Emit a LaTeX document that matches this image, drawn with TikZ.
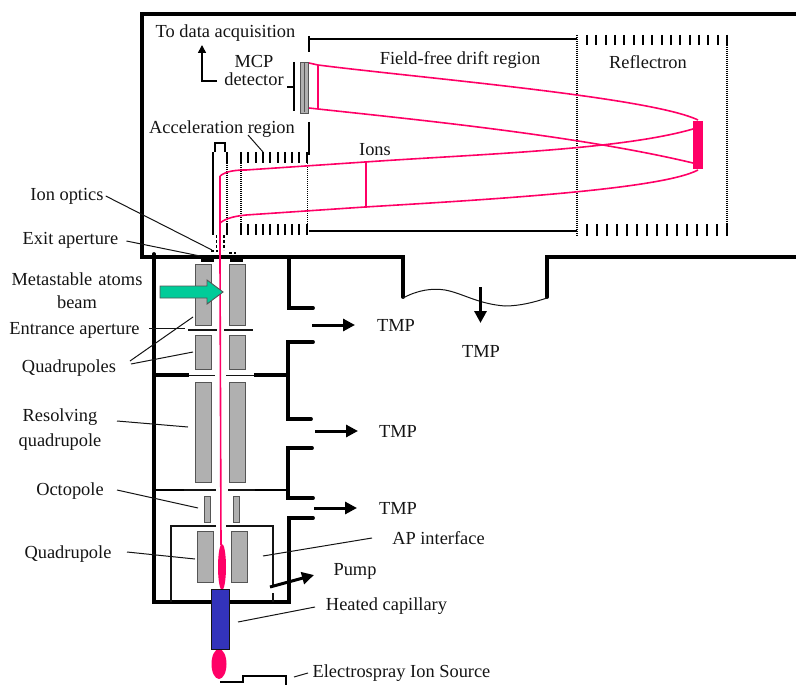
\documentclass[tikz,border=0pt]{standalone}
\usepackage{fontspec}
\setmainfont{Liberation Serif}
\usetikzlibrary{arrows.meta,calc,shapes.geometric}
\definecolor{beam}{HTML}{FF0066}
\definecolor{ink}{HTML}{141414}
\definecolor{quadfill}{HTML}{B0B0B0}
\definecolor{quadedge}{HTML}{555555}
\definecolor{jetgreen}{HTML}{00CC99}
\definecolor{capblue}{HTML}{3333BB}
\tikzset{
  wall/.style={draw=black,line width=3.8pt,line cap=round,line join=miter},
  thinwall/.style={draw=ink,line width=2pt},
  midwall/.style={draw=black,line width=2.4pt},
  quadbox/.style={draw=quadedge,fill=quadfill,line width=0.9pt},
  label/.style={inner sep=0pt,text=ink,font=\fontsize{18.4}{18}\selectfont,align=center},
  leader/.style={draw=ink,line width=1pt},
  flowarrow/.style={draw=black,line width=3pt,-{Triangle[length=12pt,width=12pt]}},
  ray/.style={draw=beam,line width=1.6pt},
  gridtick/.style={draw=black,line width=2pt},
  dots/.style={draw=black,line width=1.2pt,dash pattern=on 1.2pt off 0.8pt},
  dashline/.style={draw=black,line width=1.5pt,dash pattern=on 3pt off 2pt},
}
\begin{document}
\begin{tikzpicture}[x=1pt,y=-1pt]
\useasboundingbox (0,0) rectangle (796,685);
% ---------- upper chamber
\draw[wall] (796,14) -- (142,14) -- (142,257) -- (403,257) -- (403,297);
\draw[wall] (547,297) -- (547,257) -- (796,257);
\draw[draw=ink,line width=1pt] (403,298) .. controls (418,290) and (432,288) .. (445,290)
  .. controls (462,293) and (478,304) .. (505,306) .. controls (520,306) and (535,302) .. (547,298);
% ---------- drift region
\draw[draw=black,line width=1.7pt] (309,39) -- (577,39);
\draw[draw=black,line width=1.7pt] (309,231) -- (577,231);
\draw[draw=black,line width=1.8pt] (309,36) -- (309,52);
\draw[draw=black,line width=1.8pt] (309,122) -- (309,155);
\draw[dots] (307.5,155) -- (307.5,231);
\draw[dots] (577,35) -- (577,236);
\draw[dots] (727,35) -- (727,236);
% reflectron grids
\foreach \i in {0,...,15} \draw[gridtick] ({587+\i*9.33},35) -- ({587+\i*9.33},45);
\foreach \i in {0,...,14} \draw[gridtick] ({587+\i*10},224) -- ({587+\i*10},236);
% acceleration grids
\foreach \i in {0,...,9} {
  \draw[gridtick] ({241+\i*7.3},152) -- ({241+\i*7.3},163);
  \draw[gridtick] ({241+\i*7.3},224) -- ({241+\i*7.3},235);
}
\draw[dots] (241,163) -- (241,224);
% ion optics
\draw[gridtick] (213,152) -- (213,235);
\draw[midwall,line width=1.8pt] (215,152) -- (215,143) -- (225,143) -- (225,152);
\draw[gridtick] (227,152) -- (227,163);
\draw[dots] (227,163) -- (227,224);
\draw[gridtick] (227,224) -- (227,235);
\draw[dashline] (216.5,235) -- (216.5,250);
\draw[dashline] (224,235) -- (224,250);
\draw[dashline] (211,251) -- (218,251);
\draw[dashline] (229,253) -- (236,253);
% detector
\node[draw=quadedge,fill=quadfill,line width=0.9pt,minimum width=8pt,minimum height=51pt,inner sep=0pt] (mcp) at (304,87.5) {};
\draw[draw=quadedge,line width=0.8pt] (304,63) -- (304,112);
\draw[midwall] (294,62) -- (294,111);
\draw[midwall,line width=1.6pt] (287,87) -- (294,87);
\draw[draw=black,line width=1.5pt,-{Triangle[length=8pt,width=8pt]}] (217,81) -- (202,81) -- (202,45);
% ---------- rays
\draw[ray] (309,63) -- (318,65) .. controls (420,78) and (650,97) .. (698,120);
\draw[ray] (309,108) -- (318,109) .. controls (420,120) and (580,136) .. (693,163);
\draw[ray] (220,176) .. controls (226,171) and (236,170) .. (246,170) -- (365,162)
  .. controls (480,154) and (620,150) .. (693,129);
\draw[ray] (220,223) .. controls (226,218) and (236,216) .. (246,215) -- (365,207)
  .. controls (480,200) and (660,190) .. (698,170);
\draw[ray,line width=2pt] (318,65) -- (318,109);
\draw[ray,line width=2pt] (366,162) -- (366,208);
\node[fill=beam,minimum width=10pt,minimum height=48pt,inner sep=0pt] (mirror) at (698,145) {};
% ---------- lower chamber
\draw[wall] (154,254) -- (154,602) -- (211,602);
\draw[wall] (229,602) -- (289,602) -- (289,518) -- (313,518);
\draw[wall] (289,258) -- (289,308) -- (313,308);
\draw[wall] (313,342) -- (288,342) -- (288,419) -- (311,419);
\draw[wall] (312,448) -- (288,448) -- (288,498) -- (313,498);
% internal walls
\draw[wall,line cap=butt] (154,375) -- (189,375);
\draw[wall,line cap=butt] (254,375) -- (288,375);
\draw[wall,line cap=butt,line width=2.6pt] (154,490) -- (184,490);
\draw[wall,line cap=butt,line width=2.6pt] (255,490) -- (288,490);
\draw[draw=ink,line width=1.2pt] (189,375.5) -- (215,375.5) (226,375.5) -- (254,375.5);
\draw[draw=ink,line width=1.2pt] (184,490) -- (216,490) (228,490) -- (255,490);
\draw[thinwall] (188,330) -- (217,330) (224,330) -- (253,330);
% exit aperture
\draw[draw=black,line width=5pt] (201,259) -- (214,259) (230,259) -- (243,259);
% AP box
\draw[thinwall] (216,526) -- (171,526) -- (171,602);
\draw[thinwall] (226,526) -- (273,526) -- (273,587);
\draw[thinwall] (273,593) -- (273,602);
% quadrupoles
\draw[quadbox] (195,264) rectangle (211,325);
\draw[quadbox] (229,264) rectangle (245,325);
\draw[quadbox] (195,335) rectangle (211,369);
\draw[quadbox] (229,335) rectangle (245,369);
\draw[quadbox] (195,382) rectangle (211,482);
\draw[quadbox] (229,382) rectangle (245,482);
\draw[quadbox] (204,496) rectangle (210,522);
\draw[quadbox] (233,496) rectangle (239,522);
\draw[quadbox] (197,531) rectangle (213,582);
\draw[quadbox] (231,531) rectangle (247,582);
% beam
\draw[ray] (220,176) -- (220,260) -- (221,545);
\node[ellipse,fill=beam,minimum width=8pt,minimum height=46pt,inner sep=0pt] (plumeA) at (222,567) {};
\node[ellipse,fill=beam,minimum width=15pt,minimum height=30pt,inner sep=0pt] (plumeB) at (219,664) {};
\node[draw=ink,fill=capblue,line width=0.6pt,minimum width=18pt,minimum height=60pt,inner sep=0pt] (cap) at (220,619) {};
% green arrow
\draw[draw=quadedge,fill=jetgreen,line width=0.9pt] (160,286) -- (207,286) -- (207,280) -- (223,292) -- (207,304) -- (207,298) -- (160,298) -- cycle;
% source
\draw[midwall] (220,682) -- (243,682) -- (243,676) -- (286,676) -- (286,685);
% ---------- flow arrows
\coordinate (a1s) at (312,325); \coordinate (a1e) at (355,325);
\coordinate (a2s) at (480.5,287); \coordinate (a2e) at (480.5,323);
\coordinate (a3s) at (315,431); \coordinate (a3e) at (358,431);
\coordinate (a4s) at (314,508); \coordinate (a4e) at (357,508);
\coordinate (a5s) at (270,587); \coordinate (a5e) at (314,575);
\draw[flowarrow] (a1s) -- (a1e);
\draw[flowarrow] (a2s) -- (a2e);
\draw[flowarrow] (a3s) -- (a3e);
\draw[flowarrow] (a4s) -- (a4e);
\draw[flowarrow] (a5s) -- (a5e);
% ---------- labels
\node[label] (lblData) at (225.5,33.5) {To data acquisition};
\node[label] (lblMcp) at (254,70) {MCP\\detector};
\node[label] (lblDrift) at (460,60.5) {Field-free drift region};
\node[label] (lblRefl) at (648,62) {Reflectron};
\node[label] (lblAcc) at (222,129) {Acceleration region};
\node[label] (lblIons) at (375,150) {Ions};
\node[label] (lblOptics) at (67,196) {Ion optics};
\node[label] (lblExit) at (70.5,240) {Exit aperture};
\node[label,text width=140pt] (lblMeta) at (77,290.5) {Metastable atoms\\[5pt]beam};
\node[label] (lblEntr) at (74.5,330) {Entrance aperture};
\node[label] (lblQuads) at (69,368) {Quadrupoles};
\node[label,text width=100pt] (lblRes) at (60,430) {Resolving\\[7pt]quadrupole};
\node[label] (lblOct) at (70,491) {Octopole};
\node[label] (lblQuad) at (68,554) {Quadrupole};
\node[label] (lblAp) at (438.5,538) {AP interface};
\node[label] (lblPump) at (355,571) {Pump};
\node[label] (lblHeat) at (386.5,606) {Heated capillary};
\node[label] (lblEsi) at (401.5,673.5) {Electrospray Ion Source};
\node[label] (lblT1) at (396,325) {TMP};
\node[label] (lblT2) at (481,351) {TMP};
\node[label] (lblT3) at (398,431) {TMP};
\node[label] (lblT4) at (398,508) {TMP};
% ---------- leaders
\coordinate (sAcc) at (248,135);
\coordinate (tAcc) at (263,152);
\coordinate (tOpt) at (212,250);
\coordinate (tExit) at (200,256);
\coordinate (tEntr) at (185,328);
\coordinate (tQ1) at (193,317);
\coordinate (tQ2) at (193,352);
\coordinate (sQ) at (130,361);
\coordinate (sQb) at (131,364);
\coordinate (tRes) at (188,427);
\coordinate (sRes) at (117,421);
\coordinate (sOct) at (117,490);
\coordinate (tOct) at (198,508);
\coordinate (sQuad) at (127,552);
\coordinate (tQuad) at (195,559);
\coordinate (sAp) at (372,538);
\coordinate (tAp) at (263,556);
\coordinate (sHeat) at (315,607);
\coordinate (tHeat) at (238,622);
\coordinate (sEsi) at (308,673);
\coordinate (tEsi) at (294,677);
\draw[leader] (sAcc) -- (tAcc);
\draw[leader] ([xshift=2pt]lblOptics.east) -- (tOpt);
\draw[leader] ([xshift=8pt,yshift=-1pt]lblExit.east) -- (tExit);
\draw[leader] ([xshift=9pt,yshift=2pt]lblEntr.east) -- (tEntr);
\draw[leader] (sQ) -- (tQ1);
\draw[leader] (sQb) -- (tQ2);
\draw[leader] (sRes) -- (tRes);
\draw[leader] (sOct) -- (tOct);
\draw[leader] (sQuad) -- (tQuad);
\draw[leader] (sAp) -- (tAp);
\draw[leader] (sHeat) -- (tHeat);
\draw[leader] (sEsi) -- (tEsi);
\end{tikzpicture}
\end{document}
